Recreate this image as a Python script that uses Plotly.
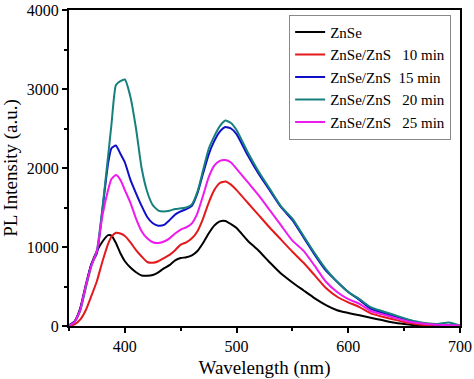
import plotly.graph_objects as go

wavelength = [350, 355, 360, 365, 370, 375, 380, 385, 388, 392, 396, 400, 405, 410, 415, 420,
              425, 430, 435, 440, 445, 450, 455, 460, 465, 470, 475, 480, 485, 490, 495, 500,
              510, 520, 530, 540, 550, 560, 570, 580, 590, 600, 610, 620, 630, 640, 650, 660,
              670, 680, 690, 700]

znse = [10, 60, 220, 520, 780, 950, 1070, 1150, 1145, 1050, 920, 820, 740, 680, 640, 635,
        645, 680, 730, 770, 830, 860, 870, 895, 950, 1050, 1170, 1270, 1325, 1330, 1290, 1240,
        1080, 950, 800, 660, 550, 450, 350, 265, 200, 165, 135, 105, 75, 45, 25, 10,
        5, 0, 0, 0]

zns10 = [0, 20, 80, 200, 380, 570, 820, 1040, 1130, 1180, 1170, 1140, 1060, 960, 880, 810,
         800, 820, 860, 900, 960, 1030, 1060, 1110, 1200, 1360, 1560, 1720, 1810, 1830, 1790, 1720,
         1560, 1400, 1240, 1090, 940, 800, 640, 480, 370, 300, 240, 160, 120, 85, 50, 25,
         10, 3, 0, 0]

zns15 = [5, 55, 210, 500, 780, 920, 1480, 2060, 2250, 2285, 2180, 2070, 1850, 1680, 1520, 1380,
         1300, 1270, 1280, 1340, 1410, 1450, 1480, 1520, 1680, 1930, 2170, 2340, 2460, 2520, 2500, 2430,
         2160, 1920, 1710, 1500, 1340, 1120, 900, 700, 560, 430, 330, 220, 170, 130, 90, 50,
         30, 15, 10, 5]

zns20 = [5, 50, 190, 480, 760, 960, 1500, 2150, 2550, 3050, 3100, 3120, 2900, 2500, 2000, 1700,
         1530, 1460, 1450, 1460, 1480, 1490, 1500, 1540, 1700, 1970, 2240, 2400, 2530, 2600, 2570, 2480,
         2200, 1950, 1730, 1510, 1360, 1140, 920, 720, 560, 430, 340, 240, 190, 145, 100, 60,
         35, 25, 45, 5]

zns25 = [5, 50, 200, 510, 760, 950, 1400, 1720, 1860, 1910, 1850, 1720, 1560, 1360, 1200, 1110,
         1060, 1050, 1070, 1110, 1170, 1220, 1250, 1300, 1430, 1650, 1880, 2030, 2090, 2100, 2070, 1990,
         1820, 1650, 1460, 1270, 1080, 950, 760, 560, 430, 340, 280, 190, 150, 110, 70, 40,
         25, 15, 10, 5]

names = ["ZnSe",
         "ZnSe/ZnS\u00a0\u00a0\u00a010 min",
         "ZnSe/ZnS\u00a0\u00a015 min",
         "ZnSe/ZnS\u00a0\u00a0\u00a020 min",
         "ZnSe/ZnS\u00a0\u00a0\u00a025 min"]
series = [znse, zns10, zns15, zns20, zns25]
colors = ["#000000", "#e3191c", "#0f0fc8", "#17807e", "#ee1aee"]

fig = go.Figure()
for nm, ys, c in zip(names, series, colors):
    fig.add_trace(go.Scatter(x=wavelength, y=ys, mode="lines", name=nm,
                             line=dict(color=c, width=2, shape="spline", smoothing=0.5)))

font_family = "Liberation Serif"
fig.update_layout(
    width=474, height=379,
    margin=dict(l=69, r=14, t=10, b=53, autoexpand=False),
    plot_bgcolor="white", paper_bgcolor="white",
    font=dict(family=font_family, size=16, color="black"),
    showlegend=True,
    legend=dict(x=0.563, y=0.985, xanchor="left", yanchor="top",
                bgcolor="white", bordercolor="#888888", borderwidth=1,
                font=dict(family=font_family, size=15, color="black"),
                tracegroupgap=0),
)
fig.update_xaxes(range=[350, 700], dtick=100, tick0=400, ticks="outside", ticklen=5, tickwidth=1.5,
                 minor=dict(dtick=50, ticks="outside", ticklen=3, tickwidth=1.5, tickcolor="black"),
                 showline=True, linewidth=2, linecolor="black", mirror=True,
                 showgrid=False, zeroline=False, tickcolor="black", automargin=False,
                 title=dict(text="Wavelength (nm)", standoff=12),
                 tickfont=dict(family=font_family, size=16))
fig.update_yaxes(range=[0, 4000], dtick=1000, ticks="outside", ticklen=5, tickwidth=1.5,
                 minor=dict(dtick=500, ticks="outside", ticklen=3, tickwidth=1.5, tickcolor="black"),
                 showline=True, linewidth=2, linecolor="black", mirror=True,
                 showgrid=False, zeroline=False, tickcolor="black", automargin=False,
                 title=dict(text="PL Intensity (a.u.)", standoff=8),
                 tickfont=dict(family=font_family, size=16))

fig.write_html("out.html", config={"displayModeBar": False},
               post_script="document.body.style.margin='0';document.body.style.overflow='hidden';")
